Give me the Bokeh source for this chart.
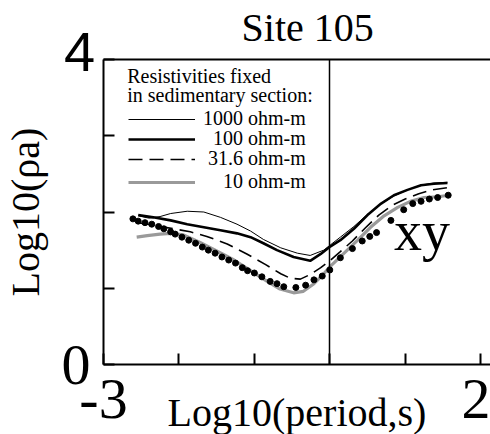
from bokeh.plotting import figure
from bokeh.models import Range1d, FixedTicker, Label, Legend, LegendItem, LinearAxis
from bokeh.embed import file_html
from bokeh.resources import INLINE

# ---- data (log10 period, log10 apparent resistivity) ----
x_1000 = [-2.54, -2.40, -2.25, -2.11, -1.89, -1.67, -1.45, -1.23, -1.05, -0.88, -0.65, -0.43,
          -0.26, -0.08, 0.01, 0.14, 0.32, 0.50, 0.67, 0.85, 1.03, 1.20, 1.38, 1.56]
y_1000 = [1.95, 1.92, 1.94, 1.98, 2.01, 2.00, 1.93, 1.84, 1.75, 1.64, 1.53, 1.46,
          1.43, 1.50, 1.57, 1.67, 1.81, 1.97, 2.10, 2.21, 2.29, 2.35, 2.38, 2.39]

x_100 = [-2.54, -2.34, -2.11, -1.89, -1.67, -1.45, -1.23, -1.05, -0.88, -0.70, -0.48, -0.26,
         -0.12, 0.01, 0.14, 0.32, 0.50, 0.68, 0.85, 1.03, 1.21, 1.38, 1.56]
y_100 = [1.96, 1.93, 1.89, 1.84, 1.80, 1.76, 1.72, 1.67, 1.59, 1.50, 1.41, 1.36,
         1.45, 1.55, 1.63, 1.78, 1.96, 2.11, 2.22, 2.29, 2.35, 2.37, 2.38]

x_31 = [-2.54, -2.30, -2.07, -1.85, -1.63, -1.36, -1.10, -0.85, -0.65, -0.52, -0.39, -0.26,
        -0.12, 0.01, 0.14, 0.30, 0.47, 0.65, 0.83, 1.00, 1.18, 1.36, 1.56]
y_31 = [1.86, 1.82, 1.78, 1.74, 1.68, 1.58, 1.45, 1.31, 1.19, 1.13, 1.12, 1.18,
        1.27, 1.37, 1.48, 1.62, 1.79, 1.96, 2.09, 2.17, 2.24, 2.29, 2.32]

x_10 = [-2.56, -2.42, -2.25, -2.11, -1.94, -1.72, -1.50, -1.27, -1.05, -0.83, -0.66, -0.48,
        -0.35, -0.21, -0.08, 0.01, 0.19, 0.37, 0.54, 0.72, 0.90, 1.07, 1.25, 1.43, 1.58]
y_10 = [1.67, 1.69, 1.71, 1.72, 1.70, 1.60, 1.49, 1.37, 1.23, 1.09, 0.99, 0.94,
        0.96, 1.06, 1.19, 1.29, 1.46, 1.63, 1.80, 1.95, 2.06, 2.14, 2.19, 2.20, 2.22]

x_obs = [-2.61, -2.54, -2.45, -2.36, -2.27, -2.20, -2.11, -2.05, -1.96, -1.87, -1.78, -1.69,
         -1.61, -1.52, -1.43, -1.34, -1.25, -1.16, -1.09, -1.00, -0.90, -0.79, -0.70, -0.61,
         -0.45, -0.32, -0.21, -0.10, 0.00, 0.14, 0.30, 0.43, 0.53, 0.62, 0.81, 0.98, 1.10,
         1.21, 1.32, 1.43, 1.57]
y_obs = [1.91, 1.88, 1.86, 1.84, 1.81, 1.78, 1.74, 1.71, 1.67, 1.63, 1.59, 1.54,
         1.50, 1.46, 1.41, 1.37, 1.33, 1.27, 1.23, 1.20, 1.15, 1.09, 1.06, 1.02,
         1.01, 1.04, 1.11, 1.16, 1.24, 1.40, 1.52, 1.62, 1.68, 1.73, 1.89, 2.03, 2.11,
         2.14, 2.17, 2.19, 2.22]

x_ticks = [-3, -2, -1, 0, 1, 2]
x_tick_labels = {-3: "-3", 2: "2"}
y_ticks = [0, 1, 2, 3, 4]
y_tick_labels = {0: "0"}
y_top_value = 4
legend_labels = ["1000 ohm-m", "100 ohm-m", "31.6 ohm-m", "10 ohm-m"]

SERIF = "Liberation Serif"
SANS = "Liberation Sans"

# the frame fills the whole page; axes are pinned at data positions
p = figure(width=490, height=434, output_backend="svg", toolbar_location=None,
           x_range=Range1d(-4.3655, 2.1306), y_range=Range1d(-0.918, 4.7738),
           min_border=0, min_border_left=0, min_border_right=0,
           min_border_top=0, min_border_bottom=0)
p.xgrid.visible = False
p.ygrid.visible = False
p.outline_line_color = None
p.background_fill_color = "white"
p.border_fill_color = "white"


def style(ax, ticks, labels, font, size, standoff, line_width=2):
    ax.ticker = FixedTicker(ticks=ticks)
    ax.major_label_overrides = {t: labels.get(t, "") for t in ticks}
    ax.major_label_text_font = font
    ax.major_label_text_font_size = size
    ax.major_label_text_color = "black"
    ax.major_label_standoff = standoff
    ax.major_tick_in = 11
    ax.major_tick_out = 0
    ax.minor_tick_in = 0
    ax.minor_tick_out = 0
    ax.major_tick_line_width = 2
    ax.axis_line_width = line_width
    ax.axis_line_color = "black"
    ax.major_tick_line_color = "black"
    ax.axis_label_text_font = SERIF
    ax.axis_label_text_font_style = "normal"
    ax.axis_label_text_color = "black"


xa, ya = p.xaxis[0], p.yaxis[0]
xa.fixed_location = 0
xa.bounds = (-3, 2.37)
style(xa, x_ticks, x_tick_labels, SERIF, "58px", 15)
xa.axis_label = "Log10(period,s)"
xa.axis_label_text_font_size = "40px"
xa.axis_label_standoff = -31

ya.fixed_location = -3
ya.bounds = (0, 4)
style(ya, y_ticks, y_tick_labels, SERIF, "58px", 13)
ya.axis_label = "Log10(\u03c1a)"
ya.axis_label_text_font_size = "40px"
ya.axis_label_standoff = 11

top_border = LinearAxis(fixed_location=4, bounds=(-3, 2.37))
style(top_border, [], {}, SERIF, "10px", 0)
p.add_layout(top_border, "above")

zero_line = LinearAxis(fixed_location=0, bounds=(0, 4))
style(zero_line, [], {}, SERIF, "10px", 0, line_width=1.5)
p.add_layout(zero_line, "left")

# upper y tick label (sans-serif in the original)
p.add_layout(Label(x=-3, y=y_top_value, x_offset=-24, y_offset=8, text=str(y_top_value),
                   text_font=SANS, text_font_size="56px", text_color="black",
                   text_align="center", text_baseline="middle"))

r10 = p.line(x_10, y_10, line_color="#9a9a9a", line_width=3.2)
r31 = p.line(x_31, y_31, line_color="black", line_width=1.6, line_dash="14 7")
r1000 = p.line(x_1000, y_1000, line_color="black", line_width=1)
r100 = p.line(x_100, y_100, line_color="black", line_width=2.6)
p.scatter(x_obs, y_obs, size=6, color="black")

nb = "\u00a0"
pads = [0, 2, 1, 4]
renderers = [r1000, r100, r31, r10]
legend_y = [304, 284, 264, 241]
for lab, pad, r, ly in zip(legend_labels, pads, renderers, legend_y):
    lg = Legend(items=[LegendItem(label=nb * pad + lab, renderers=[r])],
                location=(128, ly), padding=0, margin=0, spacing=0,
                glyph_width=67, glyph_height=20, label_height=20, label_standoff=8,
                label_text_font=SERIF, label_text_font_size="20px", label_text_color="black",
                border_line_color=None, background_fill_alpha=0)
    p.add_layout(lg)

p.add_layout(Label(x=-2.686, y=3.79, text="Resistivities fixed", text_font=SERIF,
                   text_font_size="20px", text_baseline="middle", text_align="left",
                   text_color="black"))
p.add_layout(Label(x=-2.686, y=3.528, text="in sedimentary section:", text_font=SERIF,
                   text_font_size="20px", text_baseline="middle", text_align="left",
                   text_color="black"))
p.add_layout(Label(x=-1.17, y=4.426, text="Site 105", text_font=SERIF, text_color="black",
                   text_font_size="40px", text_align="left", text_baseline="middle"))
p.add_layout(Label(x=0.85, y=1.75, text="xy", text_font=SERIF, text_color="black",
                   text_font_size="56px", text_align="left", text_baseline="middle"))

open("out.html", "w").write(file_html(p, INLINE))
